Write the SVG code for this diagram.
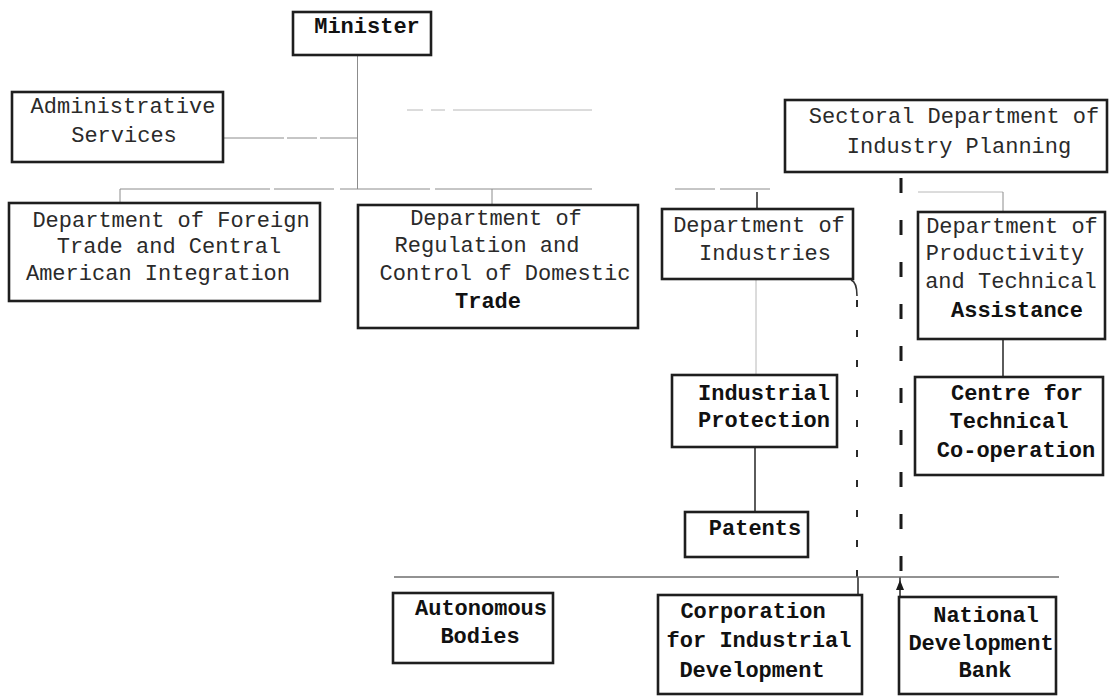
<svg xmlns="http://www.w3.org/2000/svg" width="1109" height="696" viewBox="0 0 1109 696">
<style>
.box{fill:none;stroke:#1e1e1e;stroke-width:2.6}
text{font-family:"Liberation Mono","DejaVu Sans Mono",monospace;font-size:22px;fill:#2a2a2a;text-anchor:middle}
.b{font-weight:bold;fill:#111}
.faint{stroke:#8c8c8c;stroke-width:1;fill:none}
.vfaint{stroke:#b8b8b8;stroke-width:1;fill:none}
.solid{stroke:#333;stroke-width:1.6;fill:none}
.dthin{stroke:#2a2a2a;stroke-width:2;stroke-dasharray:7 23;fill:none}
.dthick{stroke:#1a1a1a;stroke-width:3;stroke-dasharray:15 27;fill:none}
</style>
<rect width="1109" height="696" fill="#fff"/>
<g id="connectors">
<line class="faint" x1="357.5" y1="55" x2="357.5" y2="189"/>
<line class="faint" x1="224" y1="138" x2="357.5" y2="138" stroke-dasharray="60 3 30 3 40"/>
<line class="vfaint" x1="407" y1="110" x2="592" y2="110" stroke-dasharray="16 8 14 8 200"/>
<line class="faint" x1="120" y1="189" x2="592" y2="189" stroke-dasharray="150 4 60 6 90 5 160"/>
<line class="faint" x1="675" y1="189" x2="770" y2="189" stroke-dasharray="40 5 50"/>
<line class="vfaint" x1="918" y1="192" x2="1003" y2="192"/>
<line class="faint" x1="120" y1="189" x2="120" y2="203"/>
<line class="faint" x1="492" y1="189" x2="492" y2="205"/>
<line class="solid" x1="757" y1="192" x2="757" y2="209"/>
<line class="faint" x1="1003" y1="192" x2="1003" y2="212"/>
<line class="vfaint" x1="756" y1="279" x2="756" y2="375"/>
<line class="solid" x1="755" y1="447" x2="755" y2="512"/>
<line class="solid" x1="1003" y1="339" x2="1003" y2="377"/>
<path class="solid" d="M851,280 Q857,282 857,296"/>
<line class="dthin" x1="857" y1="300" x2="857" y2="577"/>
<line class="solid" x1="858" y1="577" x2="858" y2="595" stroke-width="2.6"/>
<line class="dthick" x1="901" y1="178" x2="901" y2="577"/>
<line class="solid" x1="900" y1="577" x2="900" y2="597" stroke-width="2.4"/>
<polygon points="900,580 896,590 904,590" fill="#1a1a1a"/>
<line x1="394" y1="577" x2="1059" y2="577" stroke="#6e6e6e" stroke-width="1.6"/>
</g>
<g id="minister">
<rect class="box" x="293" y="12" width="138" height="43"/>
<text class="b" x="367" y="33">Minister</text>
</g>
<g id="admin">
<rect class="box" x="12" y="92" width="211" height="70"/>
<text x="123" y="113">Administrative</text>
<text x="124" y="142">Services</text>
</g>
<g id="foreign">
<rect class="box" x="9" y="203" width="311" height="98"/>
<text x="171" y="227">Department of Foreign</text>
<text x="169" y="253">Trade and Central</text>
<text x="158" y="280">American Integration</text>
</g>
<g id="regulation">
<rect class="box" x="358" y="205" width="280" height="123"/>
<text x="496" y="225">Department of</text>
<text x="487" y="252">Regulation and</text>
<text x="505" y="280">Control of Domestic</text>
<text class="b" x="488" y="308">Trade</text>
</g>
<g id="sectoral">
<rect class="box" x="785" y="100" width="322" height="72"/>
<text x="954" y="123">Sectoral Department of</text>
<text x="959" y="153">Industry Planning</text>
</g>
<g id="industries">
<rect class="box" x="662" y="209" width="191" height="70"/>
<text x="759" y="232">Department of</text>
<text x="765" y="260">Industries</text>
</g>
<g id="productivity">
<rect class="box" x="918" y="212" width="187" height="127"/>
<text x="1012" y="233">Department of</text>
<text x="1005" y="260">Productivity</text>
<text x="1011" y="288">and Technical</text>
<text class="b" x="1017" y="317">Assistance</text>
</g>
<g id="protection">
<rect class="box" x="672" y="375" width="165" height="72"/>
<text class="b" x="764" y="400">Industrial</text>
<text class="b" x="764" y="427">Protection</text>
</g>
<g id="centre">
<rect class="box" x="915" y="377" width="188" height="98"/>
<text class="b" x="1017" y="400">Centre for</text>
<text class="b" x="1009" y="428">Technical</text>
<text class="b" x="1016" y="457">Co-operation</text>
</g>
<g id="patents">
<rect class="box" x="685" y="512" width="123" height="45"/>
<text class="b" x="755" y="535">Patents</text>
</g>
<g id="autonomous">
<rect class="box" x="393" y="593" width="160" height="70"/>
<text class="b" x="481" y="615">Autonomous</text>
<text class="b" x="480" y="643">Bodies</text>
</g>
<g id="corporation">
<rect class="box" x="658" y="595" width="204" height="99"/>
<text class="b" x="753" y="618">Corporation</text>
<text class="b" x="759" y="647">for Industrial</text>
<text class="b" x="752" y="677">Development</text>
</g>
<g id="national">
<rect class="box" x="899" y="597" width="157" height="97"/>
<text class="b" x="986" y="622">National</text>
<text class="b" x="981" y="650">Development</text>
<text class="b" x="985" y="677">Bank</text>
</g>
</svg>
